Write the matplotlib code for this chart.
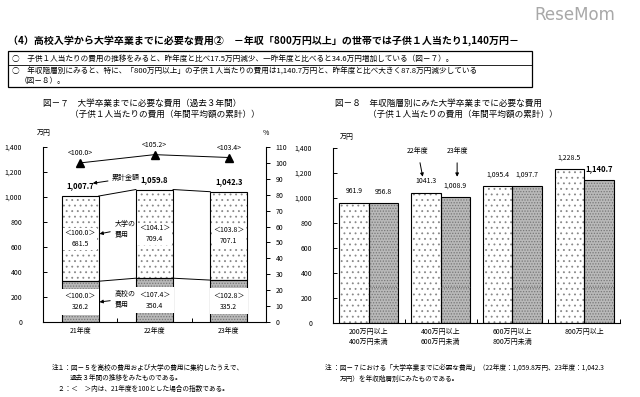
import numpy as np
import matplotlib
matplotlib.use("Agg")
import matplotlib.pyplot as plt
from matplotlib.patches import Rectangle
from matplotlib.lines import Line2D

plt.rcParams['font.family'] = ['Noto Sans CJK JP', 'DejaVu Sans']
plt.rcParams['hatch.linewidth'] = 0.6

# ---- data: figure 7 (last 3 years) ----
years = ['21年度', '22年度', '23年度']
hs_cost = [326.2, 350.4, 335.2]
univ_cost = [681.5, 709.4, 707.1]
total_cost = [1007.7, 1059.8, 1042.3]
hs_index = [100.0, 107.4, 102.8]
univ_index = [100.0, 104.1, 103.8]
total_index = [100.0, 105.2, 103.4]

# ---- data: figure 8 (by income bracket) ----
income = ['200万円以上\n400万円未満', '400万円以上\n600万円未満',
          '600万円以上\n800万円未満', '800万円以上']
cost_22 = [961.9, 1041.3, 1095.4, 1228.5]
cost_23 = [956.8, 1008.9, 1097.7, 1140.7]
label_22 = ['961.9', '1041.3', '1,095.4', '1,228.5']
label_23 = ['956.8', '1,008.9', '1,097.7', '1,140.7']
inner_23 = [286, 286, 286, 286]

W, H = 640, 397
fig = plt.figure(figsize=(W / 100, H / 100), dpi=100)


def px(x, y):
    return x / W, 1 - y / H


def ftext(x, y, s, **kw):
    kw.setdefault('va', 'center')
    fig.text(*px(x, y), s, **kw)


def axrect(x0, y0, x1, y1):
    return [x0 / W, 1 - y1 / H, (x1 - x0) / W, (y1 - y0) / H]


# ---- header ----
ftext(575, 15, 'ReseMom', ha='center', fontsize=12, color='#a8a8a8',
      family='DejaVu Sans')
ftext(8, 41, '（4）高校入学から大学卒業までに必要な費用②　－年収「800万円以上」の世帯では子供１人当たり1,140万円－',
      fontsize=7.2, weight='bold')
bx0, by0, bx1, by1 = 8, 51, 532, 87
fig.patches.append(Rectangle(px(bx0, by1), (bx1 - bx0) / W, (by1 - by0) / H,
                             transform=fig.transFigure, fill=False, lw=0.9, ec='black'))
fig.lines.append(Line2D([bx0 / W, bx1 / W], [1 - 65 / H, 1 - 65 / H],
                        transform=fig.transFigure, lw=0.6, color='black'))
ftext(12, 58.5, '○　子供１人当たりの費用の推移をみると、昨年度と比べ17.5万円減少、一昨年度と比べると34.6万円増加している（図－７）。',
      fontsize=5.5)
ftext(12, 71.5, '○　年収階層別にみると、特に、「800万円以上」の子供１人当たりの費用は1,140.7万円と、昨年度と比べ大きく87.8万円減少している',
      fontsize=5.5)
ftext(20, 81, '（図－８）。', fontsize=5.5)

# ---- chart titles ----
ftext(43, 103, '図－７　大学卒業までに必要な費用（過去３年間）', fontsize=6.2)
ftext(70, 114, '（子供１人当たりの費用（年間平均額の累計））', fontsize=6.2)
ftext(335, 103, '図－８　年収階層別にみた大学卒業までに必要な費用', fontsize=6.2)
ftext(368, 114, '（子供１人当たりの費用（年間平均額の累計））', fontsize=6.2)

# ======== figure 7 ========
ax1 = fig.add_axes(axrect(43, 147, 266, 322))
x = np.arange(len(years))
bw = 0.5
ax1.bar(x, hs_cost, bw, color='#b9b9b9', edgecolor='#777777', hatch='......', lw=0)
ax1.bar(x, univ_cost, bw, bottom=hs_cost, color='white', edgecolor='#888888', hatch='...', lw=0)
ax1.bar(x, hs_cost, bw, fill=False, edgecolor='black', lw=0.8)
ax1.bar(x, univ_cost, bw, bottom=hs_cost, fill=False, edgecolor='black', lw=0.8)
for i in range(len(years) - 1):
    ax1.plot([x[i] + bw / 2, x[i + 1] - bw / 2], [total_cost[i], total_cost[i + 1]], color='black', lw=0.7)
    ax1.plot([x[i] + bw / 2, x[i + 1] - bw / 2], [hs_cost[i], hs_cost[i + 1]], color='black', lw=0.7)
for i in range(len(years)):
    ax1.text(x[i], hs_cost[i] / 2, f'＜{hs_index[i]:.1f}＞\n{hs_cost[i]:.1f}', ha='center', va='center',
             fontsize=5, linespacing=1.5, bbox=dict(fc='white', ec='none', pad=2.5))
    ax1.text(x[i], hs_cost[i] + univ_cost[i] / 2, f'＜{univ_index[i]:.1f}＞\n{univ_cost[i]:.1f}',
             ha='center', va='center', fontsize=5, linespacing=1.5,
             bbox=dict(fc='white', ec='none', pad=1))
    ax1.text(x[i], total_cost[i] + 45, f'{total_cost[i]:,.1f}', ha='center', va='bottom',
             fontsize=5.5, weight='bold')
ax1.set_xlim(-0.5, 2.5)
ax1.set_ylim(0, 1400)
ax1.set_yticks(range(0, 1401, 200))
ax1.set_yticklabels([f'{v:,}' for v in range(0, 1401, 200)])
ax1.set_xticks([0.5, 1.5])
ax1.set_xticklabels([])
ax1.tick_params(axis='x', direction='in', length=3, width=0.7)
ax1.tick_params(axis='y', direction='in', length=3, width=0.7, labelsize=5, pad=15)
for i, lab in enumerate(years):
    ax1.text(x[i], -40, lab, ha='center', va='top', fontsize=5)
for s in ['top', 'right']:
    ax1.spines[s].set_visible(False)
for s in ['left', 'bottom']:
    ax1.spines[s].set_linewidth(0.8)

ax1b = ax1.twinx()
ax1b.set_ylim(0, 110)
ax1b.set_yticks(range(0, 111, 10))
ax1b.tick_params(axis='y', direction='out', length=3, width=0.7, labelsize=5, pad=4)
ax1b.spines['right'].set_linewidth(0.8)
for s in ['top', 'left', 'bottom']:
    ax1b.spines[s].set_visible(False)
ax1b.plot(x, total_index, color='black', lw=0.7, marker='^', ms=5.5)
for i in range(len(years)):
    ax1b.text(x[i], total_index[i] + 3.5, f'<{total_index[i]:.1f}>', ha='center', va='bottom', fontsize=5)

ax1.annotate('累計金額', xy=(0.17, 1110), xytext=(0.43, 1150), fontsize=5, va='center',
             arrowprops=dict(arrowstyle='-|>', lw=0.7, color='black', mutation_scale=5, shrinkA=1, shrinkB=0))
ax1.annotate('大学の\n費用', xy=(0.26, 705), xytext=(0.46, 745), fontsize=5, va='center', linespacing=1.4,
             arrowprops=dict(arrowstyle='-|>', lw=0.7, color='black', mutation_scale=5, shrinkA=1, shrinkB=0))
ax1.annotate('高校の\n費用', xy=(0.26, 160), xytext=(0.46, 185), fontsize=5, va='center', linespacing=1.4,
             arrowprops=dict(arrowstyle='-|>', lw=0.7, color='black', mutation_scale=5, shrinkA=1, shrinkB=0))

ftext(44, 133, '万円', ha='center', fontsize=5)
ftext(266, 133, '%', ha='center', fontsize=5)

# ======== figure 8 ========
ax2 = fig.add_axes(axrect(333, 148, 620, 323))
x2 = np.arange(len(income))
w2 = 0.41
ax2.bar(x2 - w2 / 2, cost_22, w2, color='white', edgecolor='#888888', hatch='...', lw=0)
ax2.bar(x2 + w2 / 2, cost_23, w2, color='#b9b9b9', edgecolor='#777777', hatch='......', lw=0)
ax2.bar(x2 - w2 / 2, cost_22, w2, fill=False, edgecolor='black', lw=0.8)
ax2.bar(x2 + w2 / 2, cost_23, w2, fill=False, edgecolor='black', lw=0.8)
for i in range(len(income)):
    ax2.plot([x2[i], x2[i] + w2], [inner_23[i], inner_23[i]], color='#555555', lw=0.6, ls=':')
    ax2.text(x2[i] - w2 / 2, cost_22[i] + 60, label_22[i], ha='center', va='bottom', fontsize=5)
    ax2.text(x2[i] + w2 / 2, cost_23[i] + 60, label_23[i], ha='center', va='bottom', fontsize=5.5 if i == 3 else 5,
             weight='bold' if i == 3 else 'normal')
    ax2.text(x2[i], -40, income[i], ha='center', va='top', fontsize=5, linespacing=1.3)
ax2.set_xlim(-0.5, 3.5)
ax2.set_ylim(0, 1400)
ax2.set_yticks(range(0, 1401, 200))
ax2.set_yticklabels([f'{v:,}' for v in range(0, 1401, 200)])
ax2.set_xticks([0.5, 1.5, 2.5, 3.5])
ax2.set_xticklabels([])
ax2.tick_params(axis='x', direction='in', length=3, width=0.7)
ax2.tick_params(axis='y', direction='in', length=3, width=0.7, labelsize=5, pad=15)
for s in ['top', 'right']:
    ax2.spines[s].set_visible(False)
for s in ['left', 'bottom']:
    ax2.spines[s].set_linewidth(0.8)

ax2.annotate('22年度', xy=(0.75, 1170), xytext=(0.68, 1380), fontsize=5, ha='center', va='center',
             arrowprops=dict(arrowstyle='-|>', lw=0.7, color='black', mutation_scale=5, shrinkA=4, shrinkB=0))
ax2.annotate('23年度', xy=(1.23, 1170), xytext=(1.23, 1380), fontsize=5, ha='center', va='center',
             arrowprops=dict(arrowstyle='-|>', lw=0.7, color='black', mutation_scale=5, shrinkA=4, shrinkB=0))
ftext(347, 137, '万円', ha='center', fontsize=5)

# ---- notes ----
ftext(52, 368, '注１：図－５を高校の費用および大学の費用に集約したうえで、', fontsize=4.8)
ftext(70, 378, '過去３年間の推移をみたものである。', fontsize=4.8)
ftext(58, 389, '２：＜　＞内は、21年度を100とした場合の指数である。', fontsize=4.8)
ftext(325, 368, '注 ：図－７における「大学卒業までに必要な費用」（22年度：1,059.8万円、23年度：1,042.3', fontsize=4.8)
ftext(340, 379, '万円）を年収階層別にみたものである。', fontsize=4.8)

fig.savefig('out.png', dpi=100)
